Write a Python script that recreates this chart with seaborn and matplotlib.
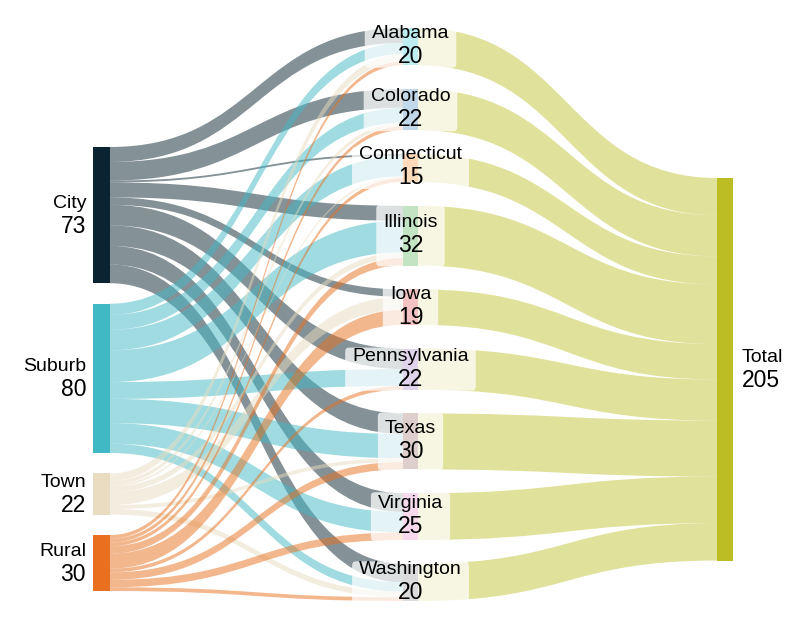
import numpy as np
import matplotlib.pyplot as plt
import seaborn as sns
from matplotlib.path import Path
from matplotlib.patches import PathPatch, Rectangle, FancyBboxPatch

# data
sources = ['City', 'Suburb', 'Town', 'Rural']
states = ['Alabama', 'Colorado', 'Connecticut', 'Illinois', 'Iowa',
          'Pennsylvania', 'Texas', 'Virginia', 'Washington']
city = [8, 10, 1, 8, 4, 11, 11, 10, 10]
suburb = [6, 8, 11, 17, 0, 9, 13, 11, 5]
town = [4, 2, 1, 3, 7, 0, 2, 0, 3]
rural = [2, 2, 2, 4, 8, 2, 4, 4, 2]
total_label = 'Total'

flows = np.array([city, suburb, town, rural])
src_tot = flows.sum(axis=1)
st_tot = flows.sum(axis=0)
grand = flows.sum()

sns.set_theme(style='white')
pal = sns.color_palette('tab10')
plt.rcParams['font.family'] = ['Liberation Sans', 'DejaVu Sans']
plt.rcParams['text.color'] = 'black'

src_colors = ['#0b2431', '#41b9c5', '#e9dcc0', '#e8701f']
st_colors = [pal[9], pal[0], pal[1], pal[2], pal[3], pal[4], pal[5], pal[6], pal[7]]
tot_color = pal[8]

# layout (pixels)
S = 1.866
XL, WL = 93, 17
XM, WM = 403, 15
XR, WR = 717, 16
left_top, left_gap = 147, 20.5
mid_top, mid_bot = 28, 601
mid_gap = (mid_bot - mid_top - grand * S) / (len(states) - 1)
right_top = 178

fig = plt.figure(figsize=(8, 6.34), dpi=100)
ax = fig.add_axes([0, 0, 1, 1])
ax.set_xlim(0, 800)
ax.set_ylim(634, 0)
ax.axis('off')


def band(x0, a0, a1, x1, b0, b1, color, alpha):
    xm = (x0 + x1) / 2
    verts = [(x0, a0), (xm, a0), (xm, b0), (x1, b0), (x1, b1),
             (xm, b1), (xm, a1), (x0, a1), (x0, a0)]
    codes = [Path.MOVETO, Path.CURVE4, Path.CURVE4, Path.CURVE4, Path.LINETO,
             Path.CURVE4, Path.CURVE4, Path.CURVE4, Path.CLOSEPOLY]
    ax.add_patch(PathPatch(Path(verts, codes), fc=color, ec='none',
                           alpha=alpha, lw=0, zorder=1))


# node positions
src_y = []
y = left_top
for v in src_tot:
    src_y.append(y)
    y += v * S + left_gap
st_y = []
y = mid_top
for v in st_tot:
    st_y.append(y)
    y += v * S + mid_gap

# stacking of link ends: by target at the source, by source at the target
src_cursor = list(src_y)
st_cursor = list(st_y)
seg = {}
for i in range(len(sources)):
    for j in range(len(states)):
        seg[(i, j, 'a')] = src_cursor[i]
        src_cursor[i] += flows[i, j] * S
for j in range(len(states)):
    for i in range(len(sources)):
        seg[(i, j, 'b')] = st_cursor[j]
        st_cursor[j] += flows[i, j] * S

for i in range(len(sources)):
    for j in range(len(states)):
        v = flows[i, j]
        if v == 0:
            continue
        a0 = seg[(i, j, 'a')]
        b0 = seg[(i, j, 'b')]
        band(XL + WL, a0, a0 + v * S, XM, b0, b0 + v * S, src_colors[i], 0.5)

# state -> total links
cur = right_top
for j in range(len(states)):
    h = st_tot[j] * S
    band(XM + WM, st_y[j], st_y[j] + h, XR, cur, cur + h, tot_color, 0.45)
    cur += h

# nodes
for i, name in enumerate(sources):
    h = src_tot[i] * S
    ax.add_patch(Rectangle((XL, src_y[i]), WL, h, fc=src_colors[i], ec='none', zorder=3))
    c = src_y[i] + h / 2
    ax.text(XL - 7, c - 12, name, ha='right', va='center', fontsize=14, zorder=5)
    ax.text(XL - 7, c + 11, str(src_tot[i]), ha='right', va='center', fontsize=16.5, zorder=5)

ax.add_patch(Rectangle((XR, right_top), WR, grand * S, fc=tot_color, ec='none', zorder=3))
c = right_top + grand * S / 2
ax.text(XR + WR + 9, c - 12, total_label, ha='left', va='center', fontsize=14, zorder=5)
ax.text(XR + WR + 9, c + 11, str(grand), ha='left', va='center', fontsize=16.5, zorder=5)

labels = []
for j, name in enumerate(states):
    h = st_tot[j] * S
    ax.add_patch(Rectangle((XM, st_y[j]), WM, h, fc=st_colors[j], ec='none', zorder=3))
    c = st_y[j] + h / 2
    cx = XM + WM / 2
    t1 = ax.text(cx, c - 13, name, ha='center', va='center', fontsize=14, zorder=6)
    t2 = ax.text(cx, c + 10, str(st_tot[j]), ha='center', va='center', fontsize=16.5, zorder=6)
    labels.append((t1, t2, c, h))

fig.canvas.draw()
inv = ax.transData.inverted()
for t1, t2, c, h in labels:
    e1 = t1.get_window_extent()
    e2 = t2.get_window_extent()
    xa = min(e1.x0, e2.x0)
    xb = max(e1.x1, e2.x1)
    (dx0, _), (dx1, _) = inv.transform([(xa, 0), (xb, 0)])
    bh = max(h, 40)
    ax.add_patch(FancyBboxPatch((dx0 - 4, c - bh / 2 + 2), dx1 - dx0 + 8, bh - 4,
                                boxstyle='round,pad=3,rounding_size=4',
                                fc='white', ec='none', alpha=0.72, zorder=4))

fig.savefig('out.png', dpi=100)
